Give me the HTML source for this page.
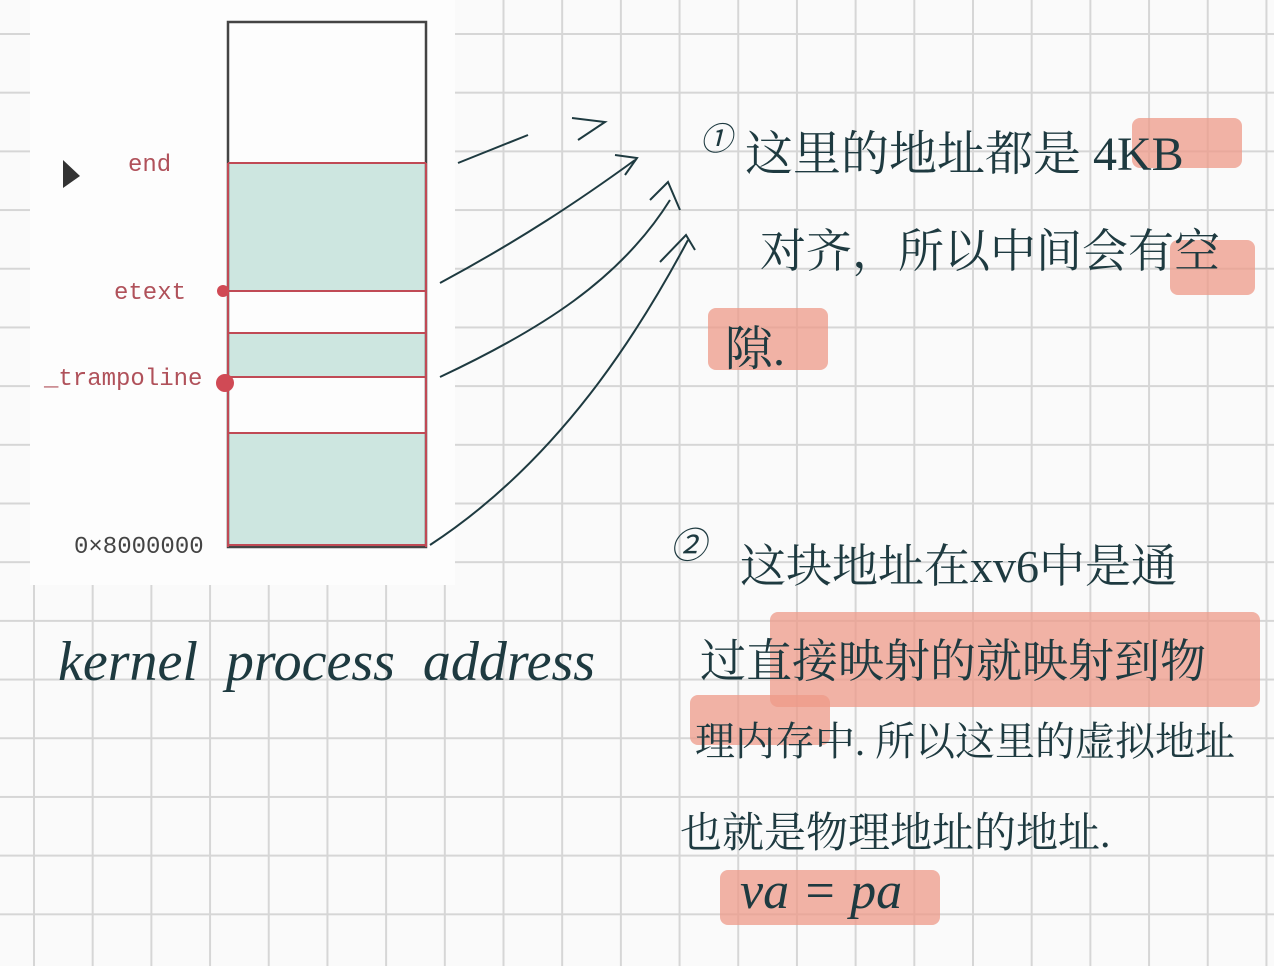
<!DOCTYPE html>
<html><head><meta charset="utf-8"><style>
body{margin:0;width:1274px;height:966px;overflow:hidden;position:relative;
background-color:#fafafa;
background-image:linear-gradient(to right,#d6d6d6 2px,transparent 2px),linear-gradient(to bottom,#d6d6d6 2px,transparent 2px);
background-size:58.7px 58.7px;background-position:33px 33px;
font-family:"Liberation Sans","Noto Sans CJK SC",sans-serif}
.hw{position:absolute;color:#1e3a40;font-family:"Liberation Serif","Noto Serif CJK SC",serif;font-style:italic;white-space:nowrap}
.hl{position:absolute;background:#ee9a88;opacity:.75;border-radius:8px}
.lab{position:absolute;font-family:"Liberation Mono",monospace;color:#b0515a;font-size:24px}
</style></head><body>
<div style="position:absolute;left:30px;top:0;width:425px;height:585px;background:#fdfdfd"></div>
<svg width="1274" height="966" style="position:absolute;left:0;top:0">
<rect x="228" y="163" width="198" height="128" fill="#cde6e0"/>
<rect x="228" y="333" width="198" height="44" fill="#cde6e0"/>
<rect x="228" y="433" width="198" height="114" fill="#cde6e0"/>
<rect x="228" y="22" width="198" height="525" fill="none" stroke="#444" stroke-width="2.5"/>
<g stroke="#c04a55" stroke-width="2" fill="none">
<line x1="228" y1="163" x2="426" y2="163"/><line x1="228" y1="291" x2="426" y2="291"/>
<line x1="228" y1="333" x2="426" y2="333"/><line x1="228" y1="377" x2="426" y2="377"/>
<line x1="228" y1="433" x2="426" y2="433"/><line x1="228" y1="545" x2="426" y2="545"/>
<line x1="228" y1="163" x2="228" y2="547"/><line x1="426" y1="163" x2="426" y2="547"/>
</g>
<circle cx="223" cy="291" r="6" fill="#d04a55"/><circle cx="225" cy="383" r="9" fill="#d04a55"/>
<path d="M63 160 L63 188 L80 176 Z" fill="#333"/>
<g stroke="#1e3a40" stroke-width="2" fill="none">
<path d="M458 163 L528 135"/><path d="M572 118 L605 122 L578 140"/>
<path d="M440 283 C520 240 580 200 635 160"/><path d="M615 155 L637 158 L625 175"/>
<path d="M440 377 C540 330 620 280 670 200"/><path d="M650 200 L668 182 L680 210"/>
<path d="M430 545 C560 460 640 330 688 240"/><path d="M660 262 L686 235 L695 250"/>
</g>
<text x="700" y="150" font-size="32" fill="#1e3a40" font-style="italic">①</text>
<text x="670" y="558" font-size="36" fill="#1e3a40" font-style="italic">②</text>
</svg>
<div class="lab" style="left:128px;top:152px">end</div>
<div class="lab" style="left:114px;top:280px">etext</div>
<div class="lab" style="left:44px;top:366px">_trampoline</div>
<div class="lab" style="left:74px;top:534px;color:#444">0×8000000</div>
<div class="hw" style="left:58px;top:630px;font-size:56px">kernel&nbsp;&nbsp;process&nbsp;&nbsp;address</div>
<div class="hl" style="left:1132px;top:118px;width:110px;height:50px"></div>
<div class="hl" style="left:1170px;top:240px;width:85px;height:55px"></div>
<div class="hl" style="left:708px;top:308px;width:120px;height:62px"></div>
<div class="hl" style="left:770px;top:612px;width:490px;height:95px"></div>
<div class="hl" style="left:690px;top:695px;width:140px;height:50px"></div>
<div class="hl" style="left:720px;top:870px;width:220px;height:55px"></div>
<div class="hw" style="left:745px;top:115px;font-size:48px;font-style:normal">这里的地址都是 4KB</div>
<div class="hw" style="left:760px;top:215px;font-size:46px;font-style:normal">对齐，所以中间会有空</div>
<div class="hw" style="left:725px;top:310px;font-size:48px;font-style:normal">隙.</div>
<div class="hw" style="left:740px;top:530px;font-size:46px;font-style:normal">这块地址在xv6中是通</div>
<div class="hw" style="left:700px;top:625px;font-size:46px;font-style:normal">过直接映射的就映射到物</div>
<div class="hw" style="left:695px;top:710px;font-size:40px;font-style:normal">理内存中. 所以这里的虚拟地址</div>
<div class="hw" style="left:680px;top:800px;font-size:42px;font-style:normal">也就是物理地址的地址.</div>
<div class="hw" style="left:740px;top:862px;font-size:52px">va = pa</div>
</body></html>
